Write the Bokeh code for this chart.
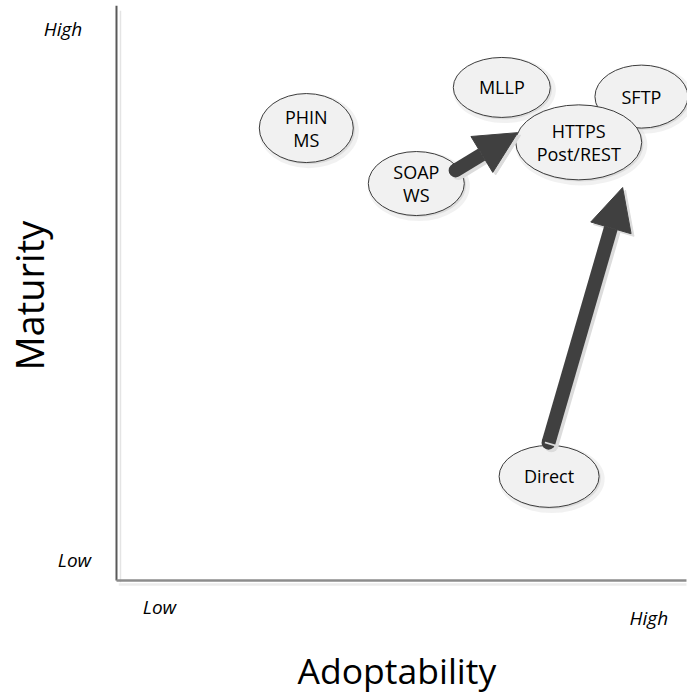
from bokeh.plotting import figure
from bokeh.models import ColumnDataSource, Range1d, Arrow, NormalHead
from bokeh.transform import dodge
from bokeh.core.properties import value
from bokeh.embed import file_html
from bokeh.resources import INLINE

# ---- data (adoptability / maturity on a 0..100 scale) ----
nodes = ["MLLP", "SFTP", "PHIN\nMS", "SOAP\nWS", "Direct", "HTTPS\nPost/REST"]
adoptability = [67.6, 92.1, 33.3, 52.6, 75.9, 81.1]
maturity = [86.2, 84.6, 79.1, 69.4, 18.2, 76.6]

# transitions (arrows): from -> to, in the same data space
arrow_from = ["SOAP WS", "Direct"]
arrow_to = ["HTTPS Post/REST", "HTTPS Post/REST"]
arrow_adopt_start = [59.5, 75.8]
arrow_mat_start = [71.7, 24.1]
arrow_adopt_end = [70.4, 88.8]
arrow_mat_end = [78.3, 68.7]

axis_low_high = ["Low", "High"]
x_title = "Adoptability"
y_title = "Maturity"

# ---- styles (screen pixels) ----
ell_w = [97, 93, 94, 96, 100, 126]
ell_h = [60, 63, 69, 64, 62, 75]

FONT = value("Open Sans")

p = figure(width=687, height=696,
           x_range=Range1d(-20.35, 100.18), y_range=Range1d(-20.28, 101.40),
           output_backend="svg", toolbar_location=None,
           x_axis_type=None, y_axis_type=None,
           min_border=0, outline_line_color=None,
           background_fill_color="white", border_fill_color="white")
p.grid.visible = False

# axis lines (with soft shadows)
p.segment(x0=[0.7], y0=[-0.3], x1=[0.7], y1=[99.6], line_color="#e4e4e4", line_width=1.5)
p.segment(x0=[0.4], y0=[-0.7], x1=[100], y1=[-0.7], line_color="#ececec", line_width=2.5)
p.segment(x0=[0], y0=[0], x1=[0], y1=[100.5], line_color="#595959", line_width=2)
p.segment(x0=[0], y0=[0], x1=[100], y1=[0], line_color="#8c8c8c", line_width=2.5)

src = ColumnDataSource(dict(x=adoptability, y=maturity, name=nodes, w=ell_w, h=ell_h,
                            ws=[v + 6 for v in ell_w], hs=[v + 6 for v in ell_h]))

# soft shadows
p.ellipse(x=dodge("x", 0.45, range=p.x_range), y=dodge("y", -0.45, range=p.y_range),
          width="ws", height="hs", width_units="screen", height_units="screen",
          source=src, fill_color="#d6d6d6", fill_alpha=0.35, line_color=None)
p.ellipse(x=dodge("x", 0.3, range=p.x_range), y=dodge("y", -0.3, range=p.y_range),
          width="w", height="h", width_units="screen", height_units="screen",
          source=src, fill_color="#cfcfcf", fill_alpha=0.6, line_color=None)
# nodes
p.ellipse(x="x", y="y", width="w", height="h", width_units="screen", height_units="screen",
          source=src, fill_color="#f1f1f1", line_color="#3c3c3c", line_width=1)
p.text(x="x", y="y", text="name", source=src, text_font=FONT, text_font_size="18px",
       text_align="center", text_baseline="middle", text_line_height=0.96,
       text_color="#000000")

# arrows (shadow then main)
sh_x0 = [v + 0.5 for v in arrow_adopt_start]
sh_y0 = [v - 0.45 for v in arrow_mat_start]
shadow_src = ColumnDataSource(dict(x0=sh_x0, y0=sh_y0,
                                   x1=[v + 0.5 for v in arrow_adopt_end],
                                   y1=[v - 0.45 for v in arrow_mat_end]))
p.scatter(x=sh_x0, y=sh_y0, size=14, marker="circle", fill_color="#dcdcdc", line_color=None)
p.add_layout(Arrow(x_start="x0", y_start="y0", x_end="x1", y_end="y1", source=shadow_src,
                   line_width=14, line_color="#dcdcdc", line_cap="butt",
                   end=NormalHead(size=42, fill_color="#dcdcdc", line_color="#dcdcdc")))
arr_src = ColumnDataSource(dict(x0=arrow_adopt_start, y0=arrow_mat_start,
                                x1=arrow_adopt_end, y1=arrow_mat_end))
p.scatter(x=arrow_adopt_start, y=arrow_mat_start, size=14, marker="circle",
          fill_color="#404040", line_color=None)
p.add_layout(Arrow(x_start="x0", y_start="y0", x_end="x1", y_end="y1", source=arr_src,
                   line_width=14, line_color="#404040", line_cap="butt",
                   end=NormalHead(size=42, fill_color="#404040", line_color="#404040")))

# axis end labels
p.text(x=[-9.39, -7.37], y=[96.5, 3.5], text=[axis_low_high[1], axis_low_high[0]],
       text_font=FONT, text_font_size="19px", text_font_style="italic",
       text_align="center", text_baseline="middle", text_color="#000000")
p.text(x=[7.54, 93.4], y=[-4.72, -6.47], text=[axis_low_high[0], axis_low_high[1]],
       text_font=FONT, text_font_size="19px", text_font_style="italic",
       text_align="center", text_baseline="middle", text_color="#000000")

# axis titles
p.text(x=[49.2], y=[-15.56], text=[x_title], text_font=FONT, text_font_size="35.5px",
       text_align="center", text_baseline="middle", text_color="#000000")
p.text(x=[-15.3], y=[49.8], text=[y_title], text_font=FONT, text_font_size="38px",
       text_align="center", text_baseline="middle", angle=1.5707963, text_color="#000000")

open("out.html", "w").write(file_html(p, INLINE))
